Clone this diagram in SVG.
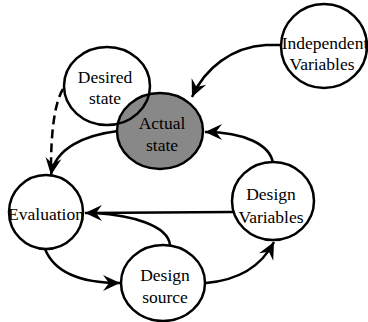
<svg xmlns="http://www.w3.org/2000/svg" width="368" height="322" viewBox="0 0 368 322">
<style>
.n{fill:#fff;stroke:#000;stroke-width:2.5}
.o{fill:none;stroke:#000;stroke-width:2.5}
.g{fill:#888;stroke:#000;stroke-width:2.5}
text{font-family:'Liberation Serif','Times New Roman',serif;font-size:17.5px;fill:#000;text-anchor:middle}
.c{fill:none;stroke:#000;stroke-width:2.5}
.d{stroke-dasharray:9,5}
.a{marker-end:url(#ah)}
</style>
<defs>
<marker id="ah" markerUnits="userSpaceOnUse" viewBox="-18 -9 20 18" refX="0" refY="0" markerWidth="20" markerHeight="18" orient="auto">
<path d="M0,0 L-17,-8 L-11,0 L-17,8 Z" fill="#000"/>
</marker>
</defs>
<rect width="368" height="322" fill="#fff"/>
<g id="connectors">
<path class="c a" d="M281,45 L266,45 C232,47 205,68 192,97"/>
<path class="c a" d="M273,163 C270,145 245,132 205,132"/>
<path class="c a" d="M118,131 C85,135 55,148 51,175"/>
<path class="c d" d="M63,89 C55,102 51,130 51,168"/>
<path class="c a" d="M233,212 L85,213"/>
<path class="c" d="M170,245 C168,225 130,215 95,213"/>
<path class="c a" d="M45,249 C55,274 85,283 120,283"/>
<path class="c a" d="M206,283 C240,280 262,265 274,242"/>
</g>
<g id="actual-state">
<ellipse class="g" cx="160" cy="131" rx="43" ry="38"/>
<text x="162" y="129">Actual</text>
<text x="162" y="151">state</text>
</g>
<g id="desired-state">
<ellipse class="o" cx="107" cy="86" rx="43" ry="39"/>
<text x="105" y="83">Desired</text>
<text x="105" y="104">state</text>
</g>
<g id="independent-variables">
<ellipse class="n" cx="324" cy="46" rx="43" ry="42"/>
<text x="325" y="49">Independent</text>
<text x="322" y="70">Variables</text>
</g>
<g id="evaluation">
<ellipse class="n" cx="46" cy="212" rx="37" ry="37"/>
<text x="46" y="220">Evaluation</text>
</g>
<g id="design-source">
<ellipse class="n" cx="163" cy="283" rx="42" ry="38"/>
<text x="165" y="281">Design</text>
<text x="165" y="303">source</text>
</g>
<g id="design-variables">
<ellipse class="n" cx="273" cy="201" rx="41" ry="39"/>
<text x="271" y="200">Design</text>
<text x="271" y="223">Variables</text>
</g>
</svg>
